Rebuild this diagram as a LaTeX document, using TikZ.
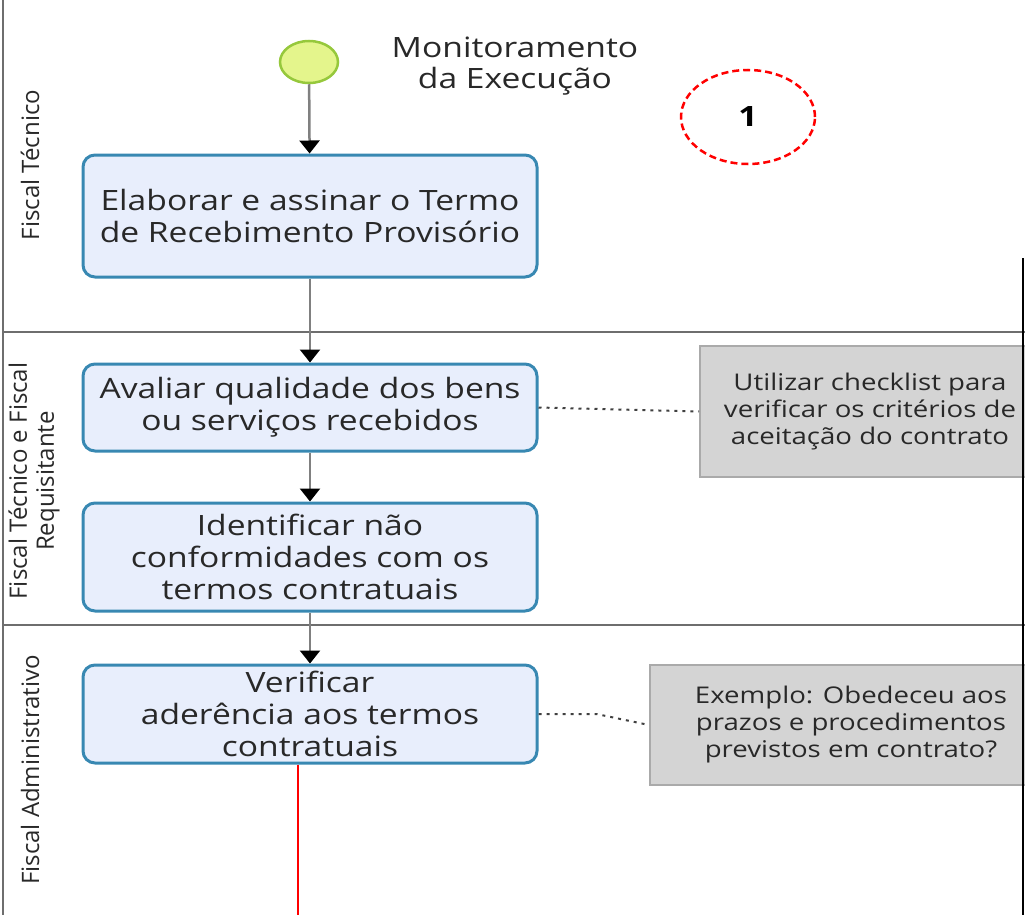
\documentclass[tikz,border=0pt]{standalone}
\usepackage{fontspec}
\setmainfont{Open Sans}[FakeStretch=1.2]
\newfontfamily\lanefont{Open Sans}
\usetikzlibrary{shapes.geometric, arrows.meta, positioning, calc}

\definecolor{taskline}{RGB}{56,136,178}
\definecolor{taskfill}{RGB}{232,238,252}
\definecolor{startfill}{RGB}{228,245,140}
\definecolor{startline}{RGB}{150,200,60}
\definecolor{notefill}{RGB}{212,212,212}
\definecolor{noteline}{RGB}{170,170,170}
\definecolor{laneline}{RGB}{110,110,110}
\definecolor{flowline}{RGB}{128,128,128}
\definecolor{textcol}{RGB}{40,40,40}

\begin{document}
\begin{tikzpicture}[x=1pt, y=-1pt, node distance=154pt,
    task/.style={rounded corners=12pt, draw=taskline, line width=3pt, fill=taskfill, align=center, minimum width=454pt, inner sep=2pt, text=textcol, font=\fontsize{28}{32}\selectfont},
    note/.style={draw=noteline, line width=2pt, fill=notefill, align=center, minimum width=340pt, minimum height=131pt, text=textcol, font=\fontsize{23}{27}\selectfont},
    lanelabel/.style={rotate=90, align=center, text=textcol, font=\lanefont\fontsize{24}{27}\selectfont},
    flow/.style={draw=flowline, line width=2.5pt, -{Triangle[black, width=20pt, length=13pt]}},
    assoc/.style={draw=black!75, line width=2pt, dash pattern=on 3pt off 5pt}]

    \useasboundingbox (0,0) rectangle (1025,915);
    \clip (0,0) rectangle (1025,915);

    % Lanes
    \draw[laneline, line width=1.5pt] (3,0) -- (3,915);
    \draw[laneline, line width=1.5pt] (3,332) -- (1025,332);
    \draw[laneline, line width=1.5pt] (3,625) -- (1025,625);
    \node[lanelabel] (lane1) at (30,165) {Fiscal Técnico};
    \node[lanelabel] (lane2) at (34,481) {Fiscal Técnico e Fiscal\\Requisitante};
    \node[lanelabel] (lane3) at (30,770) {Fiscal Administrativo};

    % Nodes
    \node (start) [ellipse, draw=startline, line width=2.5pt, fill=startfill, minimum width=58pt, minimum height=42pt] at (309,62) {};
    \node (monit) [right of=start, xshift=52pt, yshift=-4pt, align=center, text=textcol, font=\fontsize{28}{31}\selectfont] {Monitoramento\\da Execução};
    \node (elaborar) [below of=start, task, minimum height=122pt, xshift=1pt] {Elaborar e assinar o Termo\\de Recebimento Provisório};
    \node (avaliar) [below of=elaborar, task, minimum height=87pt, yshift=-37.5pt] {Avaliar qualidade dos bens\\ou serviços recebidos};
    \node (identificar) [below of=avaliar, task, minimum height=108pt, yshift=4.5pt] {Identificar não\\conformidades com os\\termos contratuais};
    \node (verificar) [below of=identificar, task, minimum height=98pt, yshift=-3pt] {Verificar\\aderência aos termos\\contratuais};
    \node (checklist) [right of=avaliar, note, xshift=406pt, yshift=-4pt] {Utilizar checklist para\\verificar os critérios de\\aceitação do contrato};
    \node (exemplo) [right of=verificar, note, xshift=387pt, yshift=-11pt, minimum height=120pt, minimum width=402pt] {Exemplo: Obedeceu aos\\prazos e procedimentos\\previstos em contrato?};
    \node (marca) [ellipse, draw=red, dash pattern=on 7pt off 4pt, line width=2.5pt, minimum width=134pt, minimum height=94pt, font=\fontsize{28}{30}\selectfont\bfseries] at (748,117) {1};
    \coordinate (fim) at (298,915);

    % Arrows
    \draw[flow] (start) -- (elaborar);
    \draw[flow] (elaborar) -- (avaliar);
    \draw[flow] (avaliar) -- (identificar);
    \draw[flow] (identificar) -- (verificar);
    \draw[assoc] (avaliar.east) -- (checklist.west);
    \draw[assoc] (verificar.east) -- ++(58,0) -- (exemplo.west);
    \draw[red, line width=1.2pt] (verificar.south -| fim) -- (fim);

    % Border
    \draw[black, line width=2.5pt] (1023,258) -- (1023,915);
\end{tikzpicture}
\end{document}
